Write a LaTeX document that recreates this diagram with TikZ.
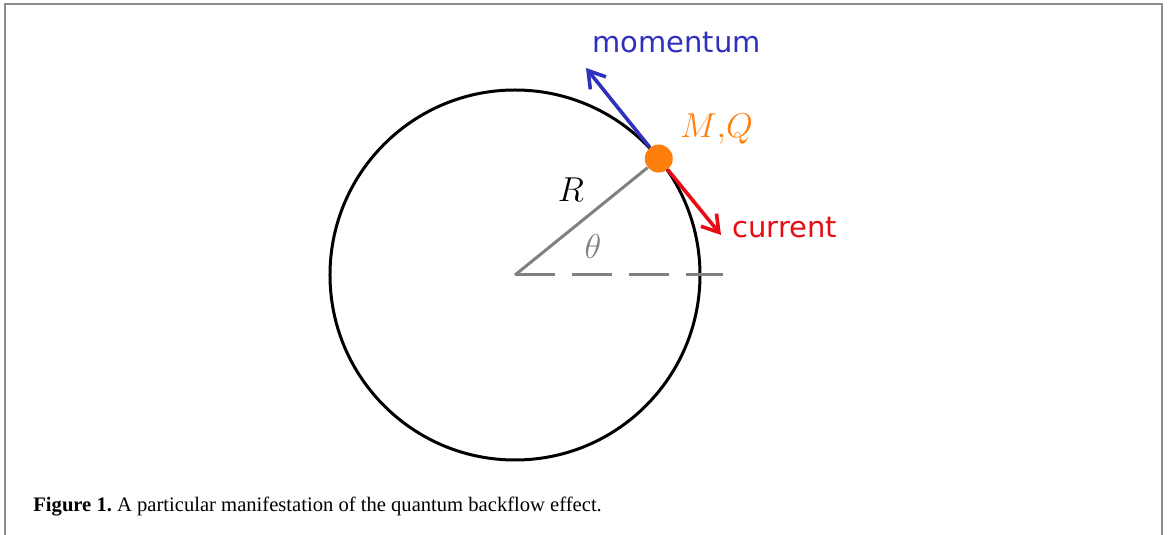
\documentclass[tikz,border=0pt]{standalone}
\usepackage{fontspec}
\newfontfamily\labelfont{DejaVu Sans}
\newfontfamily\captionfont{Liberation Serif}
\usetikzlibrary{arrows.meta}
\definecolor{momblue}{RGB}{48,48,190}
\definecolor{curred}{RGB}{232,12,20}
\definecolor{mqorange}{RGB}{255,127,14}
\definecolor{radgray}{RGB}{128,128,128}
\definecolor{framegray}{RGB}{140,140,140}
\tikzset{
    lab/.style={anchor=base west, inner sep=0, font=\labelfont\fontsize{14.5}{17}\selectfont},
    vec/.style={line width=1.8pt, -{Straight Barb[length=8pt,width=10pt]}}
}
\begin{document}
\begin{tikzpicture}[x=0.5pt,y=0.5pt]
        \useasboundingbox (-515,-260) rectangle (653,275);
        %cornice
        \draw[framegray, line width=1pt] (-510,-260)--(-510,271)--(647,271)--(647,-260);

        %cerchio
        \coordinate (o) at (0,0);
        \draw[line width=1.5pt] (o) circle (185);
        \coordinate (xend) at (208,0);
        \draw[radgray, line width=1.5pt, dash pattern=on 20pt off 8.5pt] (o)--(xend);

        %particella
        \node[circle, fill=mqorange, inner sep=0, minimum size=14pt] (mq) at (39:185) {};
        \draw[radgray, line width=1.5pt] (o)--(mq);

        %frecce
        \coordinate (mtip) at (71,207);
        \coordinate (ctip) at (206,40);
        \draw[vec, momblue] (mq)--(mtip);
        \draw[vec, curred] (mq)--(ctip);

        %label
        \node[lab, text=momblue] (mlab) at (77,222) {momentum};
        \node[lab, text=curred] (clab) at (217,37) {current};
        \node[anchor=base west, inner sep=0, text=mqorange, font=\fontsize{18}{20}\selectfont] (mqlab) at (165,137) {$M\mathord{,}Q$};
        \node[font=\fontsize{18}{20}\selectfont] (rlab) at (56,85) {$R$};
        \node[text=radgray, font=\fontsize{18}{20}\selectfont] (thlab) at (78,28) {$\theta$};

        %didascalia
        \node[anchor=base west, inner sep=0, font=\captionfont\fontsize{10.3}{12}\selectfont\frenchspacing] (cap) at (-482,-237) {\textbf{Figure 1.} A particular manifestation of the quantum backflow effect.};
    \end{tikzpicture}
\end{document}
